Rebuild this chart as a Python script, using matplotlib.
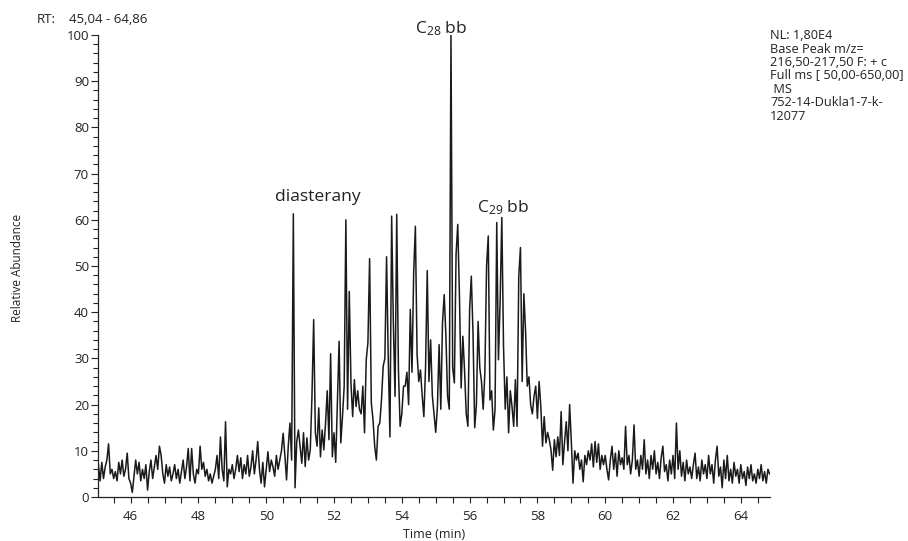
import numpy as np
import matplotlib.pyplot as plt
from matplotlib.ticker import MultipleLocator

plt.rcParams['font.family'] = ['Open Sans', 'DejaVu Sans']
plt.rcParams['mathtext.fontset'] = 'custom'
plt.rcParams['mathtext.rm'] = 'Open Sans'
plt.rcParams['mathtext.it'] = 'Open Sans'

# base peak trace, one value every 0.05 min starting at 45.05 min
scan_start = 45.05
scan_step = 0.05

abund_45 = [7, 3.5, 7.5, 4, 6.5, 8, 11.5, 5, 6, 4, 5.5, 3.5, 7.5, 5, 8, 4.5, 6, 9.5, 4]
abund_46 = [3, 1, 4.5, 8, 5, 7.5, 3.5, 6, 4, 7, 1.5, 5.5, 8, 4, 6.5, 9, 6, 11, 9, 5]
abund_47 = [3, 7, 4.5, 6.5, 3.5, 5, 7, 4, 6, 3, 5.5, 8, 4, 6.5, 10.5, 3.5, 10.5, 5, 3, 6]
abund_48 = [5, 11, 6, 7.5, 4.5, 6, 3.5, 5, 3, 4.5, 6, 9, 4, 13, 6, 3.5, 16.3, 2.2, 6, 5]
abund_49 = [7, 4, 6, 9, 5.5, 8.5, 4, 7, 5, 9, 4.5, 6.5, 10, 5, 8, 12, 6, 3, 7.5, 2.2]
abund_50 = [6, 9.8, 5.5, 8, 6.5, 4.5, 9, 6, 8, 10, 13.8, 9, 3.7, 11, 16, 8, 61.3, 2, 12, 14.5]
abund_51 = [11, 7.3, 13.9, 6.6, 12.8, 8, 10.2, 22, 38.4, 13.9, 11, 19.3, 8.7, 14.5, 10.2, 16,
            23, 12.4, 31, 8.7]
abund_52 = [13.9, 7.5, 20.4, 33.7, 11.7, 17.4, 24, 60, 19, 44.5, 24.7, 17.4, 25.4, 19.6, 23, 19,
            18, 24, 13.9, 29.7]
abund_53 = [33.4, 51.6, 20.4, 16.7, 11, 8, 15.3, 16, 21, 28.3, 30, 52, 30, 13, 60.8, 37.7,
            21.8, 61.2, 27.5, 15.3]
abund_54 = [18, 24, 24, 27, 20, 40.6, 27, 48.6, 58.6, 31, 25, 27.5, 22, 17.4, 28, 49, 25, 34,
            22, 18]
abund_55 = [14, 19.6, 33, 19, 37.7, 43.8, 35, 21.8, 19, 100, 28, 24.7, 52.5, 59, 43.5, 23.6,
            34.8, 27.5, 18, 15.3]
abund_56 = [40.6, 47.8, 35.5, 15, 20, 38, 28, 25, 19, 27, 50, 56.5, 21, 23, 14.5, 19, 59.4,
            29.7, 42.4, 60.5]
abund_57 = [32.6, 19, 26, 13.9, 23, 19.6, 15.3, 25.4, 15.3, 47.8, 54, 25, 44, 36, 24, 26, 20,
            18, 21.8, 24]
abund_58 = [17, 25, 19.6, 11, 17.4, 11.7, 14, 12.4, 10.2, 5.8, 12.4, 8.7, 13, 9, 18.5, 7, 12,
            16.3, 10, 20]
abund_59 = [12, 3, 10, 8, 9.5, 6, 8, 3.3, 9, 7, 10, 8, 11.5, 6.5, 12, 7.5, 11.5, 6, 9, 7]
abund_60 = [9, 6, 3.7, 8, 11, 6, 9.5, 4.5, 10, 7, 8.5, 6, 15.3, 7, 9, 5, 8, 15.6, 6, 8]
abund_61 = [4.5, 9, 6, 12.4, 5, 8, 4, 9, 6, 10, 5, 7.5, 4, 8.5, 11, 5.5, 7, 3.5, 8, 5]
abund_62 = [9, 4, 16, 6, 10, 4.5, 7.5, 3.5, 8, 5, 6.5, 4, 7, 9.5, 4, 6.5, 3.5, 8, 5, 7]
abund_63 = [4, 9, 5, 7, 3, 8, 11, 4.5, 6.5, 2, 8, 4, 9, 3.5, 6, 3, 7.5, 4.5, 6, 3]
abund_64 = [7, 4, 5.5, 2.5, 6.5, 4, 7, 3.5, 5, 3, 6, 4, 7, 3.5, 5.5, 3, 6, 5]

abundance = np.array(abund_45 + abund_46 + abund_47 + abund_48 + abund_49 + abund_50
                     + abund_51 + abund_52 + abund_53 + abund_54 + abund_55 + abund_56
                     + abund_57 + abund_58 + abund_59 + abund_60 + abund_61 + abund_62
                     + abund_63 + abund_64)
time_min = scan_start + scan_step * np.arange(len(abundance))

rt_range = (45.04, 64.86)
x_ticks = [46, 48, 50, 52, 54, 56, 58, 60, 62, 64]
y_ticks = [0, 10, 20, 30, 40, 50, 60, 70, 80, 90, 100]

info_lines = ["NL: 1,80E4", "Base Peak m/z=", "216,50-217,50 F: + c",
              "Full ms [ 50,00-650,00]", " MS", "752-14-Dukla1-7-k-", "12077"]

fig = plt.figure(figsize=(9.08, 5.41), dpi=100)
ax = fig.add_axes([0.108, 0.0813, 0.740, 0.854])

ax.plot(time_min, abundance, color='#1a1a1a', lw=1.1)

ax.set_xlim(*rt_range)
ax.set_ylim(0, 100)
ax.set_xticks(x_ticks)
ax.set_yticks(y_ticks)
ax.xaxis.set_minor_locator(MultipleLocator(0.5))
ax.yaxis.set_minor_locator(MultipleLocator(2))
for side in ['top', 'right']:
    ax.spines[side].set_visible(False)
for side in ['left', 'bottom']:
    ax.spines[side].set_linewidth(0.9)
    ax.spines[side].set_color('#222222')
ax.tick_params(axis='x', which='both', length=4.5, width=0.8, labelsize=9.5, pad=4.5,
               colors='#222222')
ax.tick_params(axis='y', which='major', length=5, width=0.8, labelsize=9.5, pad=1.5,
               colors='#222222')
ax.tick_params(axis='y', which='minor', length=3.5, width=0.8, colors='#222222')

ax.set_xlabel("Time (min)", fontsize=9, labelpad=4, color='#222222')
fig.text(0.019, 0.505, "Relative Abundance", rotation=90, fontsize=8.5,
         ha='center', va='center', color='#222222')

# peak labels
ax.text(51.53, 64.1, "diasterany", fontsize=12.6, ha='center', va='baseline', color='#222222')
ax.text(55.16, 100.3, r"C$_{28}$ bb", fontsize=12.5, ha='center', va='baseline',
        color='#222222', clip_on=False)
ax.text(56.99, 61.7, r"C$_{29}$ bb", fontsize=12.5, ha='center', va='baseline',
        color='#222222')

fig.text(0.040, 0.958, "RT:", fontsize=9.5, ha='left', va='baseline', color='#222222')
fig.text(0.076, 0.958, "45,04 - 64,86", fontsize=9.5, ha='left', va='baseline',
         color='#222222')
fig.text(0.848, 0.946, "\n".join(info_lines), fontsize=9.2, ha='left', va='top',
         linespacing=1.04, color='#222222')

fig.savefig("out.png", dpi=100)
